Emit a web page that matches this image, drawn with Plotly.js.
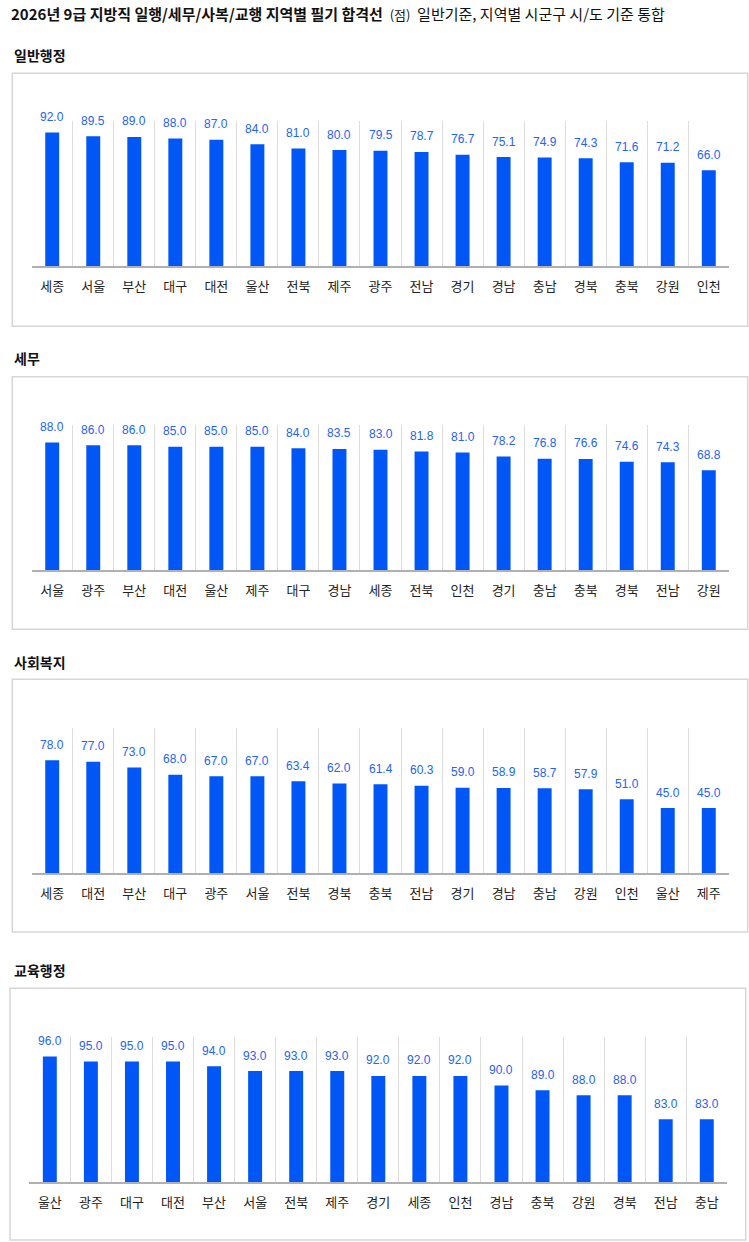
<!DOCTYPE html>
<html>
<head>
<meta charset="utf-8">
<script src="https://cdn.plot.ly/plotly-3.0.1.min.js"></script>
<style>
  html, body { margin: 0; padding: 0; background: #fff; }
  #chart { width: 749px; height: 1242px; }
</style>
</head>
<body>
<div id="chart"></div>
<script>
// 지역별 필기 합격선 (점)
var titleMain = "2026년 9급 지방직 일행/세무/사복/교행 지역별 필기 합격선";
var titleUnit = "(점)";
var titleNote = "일반기준, 지역별 시군구 시/도 기준 통합";

var panelNames = ["일반행정", "세무", "사회복지", "교육행정"];

var catsGeneral = ["세종", "서울", "부산", "대구", "대전", "울산", "전북", "제주", "광주", "전남", "경기", "경남", "충남", "경북", "충북", "강원", "인천"];
var valsGeneral = [92.0, 89.5, 89.0, 88.0, 87.0, 84.0, 81.0, 80.0, 79.5, 78.7, 76.7, 75.1, 74.9, 74.3, 71.6, 71.2, 66.0];

var catsTax = ["서울", "광주", "부산", "대전", "울산", "제주", "대구", "경남", "세종", "전북", "인천", "경기", "충남", "충북", "경북", "전남", "강원"];
var valsTax = [88.0, 86.0, 86.0, 85.0, 85.0, 85.0, 84.0, 83.5, 83.0, 81.8, 81.0, 78.2, 76.8, 76.6, 74.6, 74.3, 68.8];

var catsWelfare = ["세종", "대전", "부산", "대구", "광주", "서울", "전북", "경북", "충북", "전남", "경기", "경남", "충남", "강원", "인천", "울산", "제주"];
var valsWelfare = [78.0, 77.0, 73.0, 68.0, 67.0, 67.0, 63.4, 62.0, 61.4, 60.3, 59.0, 58.9, 58.7, 57.9, 51.0, 45.0, 45.0];

var catsEdu = ["울산", "광주", "대구", "대전", "부산", "서울", "전북", "제주", "경기", "세종", "인천", "경남", "충북", "강원", "경북", "전남", "충남"];
var valsEdu = [96.0, 95.0, 95.0, 95.0, 94.0, 93.0, 93.0, 93.0, 92.0, 92.0, 92.0, 90.0, 89.0, 88.0, 88.0, 83.0, 83.0];

var yRanges = [[0, 100], [0, 100], [0, 100], [70, 100]];

// 픽셀 -> paper 좌표
var W = 749, H = 1242;
function px(x) { return x / W; }
function py(y) { return 1 - y / H; }

// 패널 위치 (픽셀): 박스, 플롯 영역, 제목
var boxes = [
  { bx0: 12.3, bx1: 747.7, by0: 73.3, by1: 326.3, x0: 31.7, x1: 729.3, top: 121, base: 266, ty: 55 },
  { bx0: 12.3, bx1: 747.7, by0: 376.7, by1: 629.3, x0: 31.7, x1: 729.3, top: 425, base: 570, ty: 358 },
  { bx0: 12.3, bx1: 747.7, by0: 679.3, by1: 932, x0: 31.7, x1: 729.3, top: 728.3, base: 873.3, ty: 662 },
  { bx0: 10, bx1: 745.7, by0: 988.3, by1: 1240, x0: 29.3, x1: 727.3, top: 1037.3, base: 1182, ty: 970 }
];

var allCats = [catsGeneral, catsTax, catsWelfare, catsEdu];
var allVals = [valsGeneral, valsTax, valsWelfare, valsEdu];

var barColor = "#0057f6";
var labelColor = "#2563f2";

var data = [];
var layout = {
  width: W,
  height: H,
  margin: { l: 0, r: 0, t: 0, b: 0 },
  paper_bgcolor: "#fff",
  plot_bgcolor: "#fff",
  showlegend: false,
  font: { family: "Noto Sans CJK KR, sans-serif", color: "#222" },
  title: {
    text: "<b>" + titleMain + "</b>  <span style='font-size:13px'>" + titleUnit + "</span>  " + titleNote,
    x: px(11),
    xanchor: "left",
    xref: "paper",
    y: py(15),
    yanchor: "middle",
    yref: "container",
    font: { size: 15, color: "#111", family: "Noto Sans CJK KR, sans-serif" }
  },
  shapes: [],
  annotations: []
};

for (var i = 0; i < 4; i++) {
  var b = boxes[i];
  var sfx = i === 0 ? "" : String(i + 1);

  data.push({
    type: "bar",
    x: allCats[i],
    y: allVals[i],
    xaxis: "x" + sfx,
    yaxis: "y" + sfx,
    width: 0.34,
    marker: { color: barColor },
    hoverinfo: "none"
  });

  layout["xaxis" + sfx] = {
    domain: [px(b.x0), px(b.x1)],
    anchor: "y" + sfx,
    type: "category",
    showgrid: true,
    gridcolor: "#dcdcdc",
    gridwidth: 1,
    tickson: "boundaries",
    ticks: "",
    showline: true,
    linecolor: "#b0b0b0",
    linewidth: 1.5,
    ticklabelstandoff: 8,
    tickfont: { size: 13, color: "#222", family: "Noto Sans CJK KR, sans-serif" },
    fixedrange: true
  };
  layout["yaxis" + sfx] = {
    domain: [py(b.base), py(b.top)],
    anchor: "x" + sfx,
    range: yRanges[i],
    showgrid: false,
    zeroline: false,
    showline: false,
    showticklabels: false,
    ticks: "",
    fixedrange: true
  };

  // 패널 테두리
  layout.shapes.push({
    type: "rect", xref: "paper", yref: "paper",
    x0: px(b.bx0), x1: px(b.bx1), y0: py(b.by1), y1: py(b.by0),
    line: { color: "#d6d6d6", width: 1.5 },
    fillcolor: "rgba(0,0,0,0)"
  });

  // 패널 제목
  layout.annotations.push({
    xref: "paper", yref: "paper",
    x: px(12), y: py(b.ty),
    xanchor: "left", yanchor: "middle",
    showarrow: false,
    text: "<b>" + panelNames[i] + "</b>",
    font: { size: 14, color: "#111", family: "Noto Sans CJK KR, sans-serif" }
  });

  // 값 라벨
  for (var j = 0; j < allCats[i].length; j++) {
    layout.annotations.push({
      xref: "x" + sfx, yref: "y" + sfx,
      x: allCats[i][j], y: allVals[i][j],
      yanchor: "middle",
      yshift: 15.5,
      showarrow: false,
      text: allVals[i][j].toFixed(1),
      font: { size: 12, color: labelColor, family: "Liberation Sans Narrow, Liberation Sans, Arial, sans-serif" }
    });
  }
}

Plotly.newPlot("chart", data, layout, { displayModeBar: false, staticPlot: true });
</script>
</body>
</html>
